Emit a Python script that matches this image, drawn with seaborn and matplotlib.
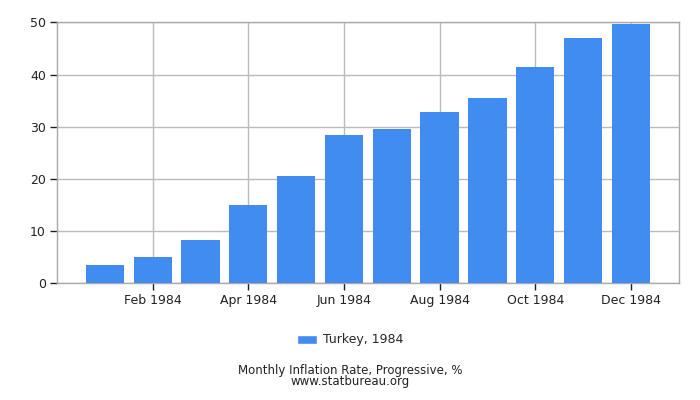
import matplotlib
matplotlib.use("Agg")
import matplotlib.pyplot as plt
import seaborn as sns
import pandas as pd
from matplotlib.patches import Patch

months = ["Jan 1984", "Feb 1984", "Mar 1984", "Apr 1984", "May 1984", "Jun 1984",
          "Jul 1984", "Aug 1984", "Sep 1984", "Oct 1984", "Nov 1984", "Dec 1984"]
values = [3.5, 5.0, 8.3, 15.0, 20.6, 28.4, 29.6, 32.8, 35.5, 41.4, 47.0, 49.7]
series_name = "Turkey, 1984"
yticks = [0, 10, 20, 30, 40, 50]

sns.set_style("white")
plt.rcParams['font.family'] = ['DejaVu Sans']

df = pd.DataFrame({"month": months, "value": values})

fig = plt.figure(figsize=(7, 4), dpi=100)
ax = fig.add_axes([57/700, 1 - 283.3/400, (678.7 - 57)/700, (283.3 - 22.3)/400])

bar_color = "#418CF0"
sns.barplot(data=df, x="month", y="value", color=bar_color, saturation=1,
            width=0.8, ax=ax, zorder=3, linewidth=0, edgecolor="none")

ax.set_xlim(-1, 12)
ax.set_ylim(0, 50)
ax.set_yticks(yticks)
ax.set_yticklabels([str(t) for t in yticks], fontsize=9, color="#222222")

tick_pos = list(range(1, 12, 2))
ax.set_xticks(tick_pos)
ax.set_xticklabels([months[i] for i in tick_pos], fontsize=9, color="#222222")
ax.set_xlabel("")
ax.set_ylabel("")

ax.grid(True, color="#bbbbbb", linewidth=1, zorder=0)
ax.set_axisbelow(True)
for s in ax.spines.values():
    s.set_visible(True)
    s.set_color("#aaaaaa")
    s.set_linewidth(1)
ax.tick_params(axis="both", length=5, width=1, color="#222222", direction="out",
               pad=3, bottom=True, left=True)

leg = fig.legend(handles=[Patch(facecolor=bar_color, label=series_name)],
                 loc="center", bbox_to_anchor=(350/700, 1 - 340/400), frameon=False,
                 fontsize=9, handlelength=1.6, handleheight=0.7, handletextpad=0.5)

fig.text(350/700, 1 - 370.5/400, "Monthly Inflation Rate, Progressive, %", ha="center",
         va="center", fontsize=8.5, color="#222222")
fig.text(350/700, 1 - 382/400, "www.statbureau.org", ha="center", va="center",
         fontsize=8.5, color="#222222")

fig.savefig("out.png", dpi=100)
